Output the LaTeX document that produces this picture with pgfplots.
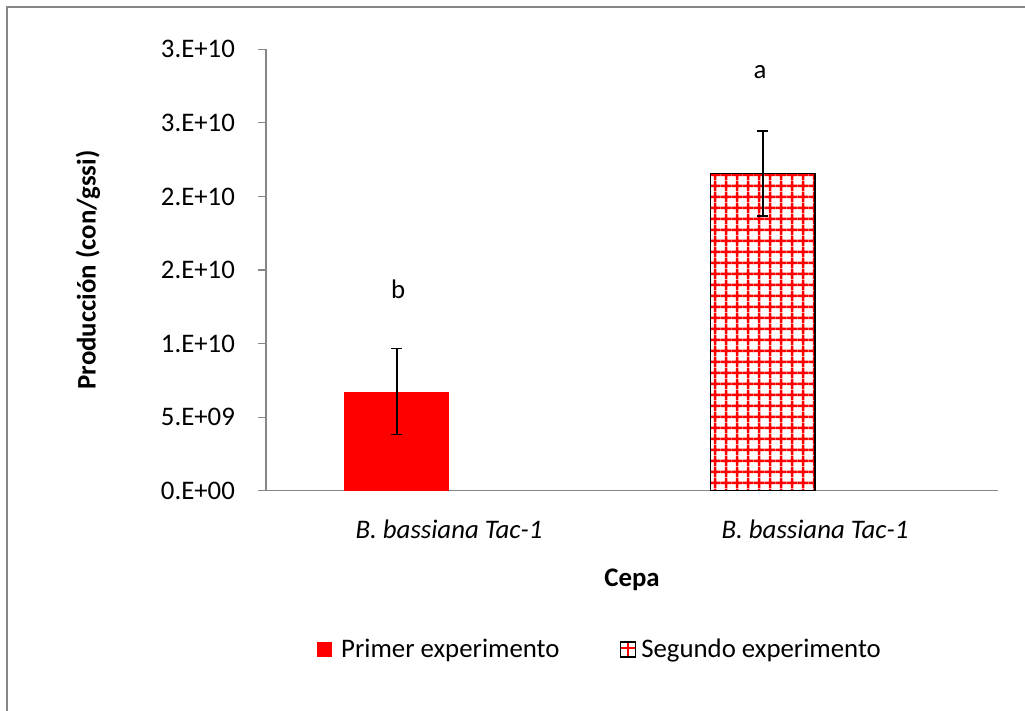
\documentclass[border=0pt]{standalone}
\usepackage{pgfplots}
\pgfplotsset{compat=1.18}
\usepackage{fontspec}
\setmainfont{Carlito}
\usetikzlibrary{patterns}
\definecolor{axisgray}{HTML}{868686}
\definecolor{xred}{HTML}{FF0000}
\pgfdeclarepatternformonly{redgrid}{\pgfpointorigin}{\pgfqpoint{5.3pt}{5.3pt}}{\pgfqpoint{5.3pt}{5.3pt}}{%
  \pgfsetlinewidth{1.2pt}%
  \pgfpathmoveto{\pgfqpoint{-0.1pt}{2.65pt}}\pgfpathlineto{\pgfqpoint{5.4pt}{2.65pt}}%
  \pgfpathmoveto{\pgfqpoint{2.65pt}{-0.1pt}}\pgfpathlineto{\pgfqpoint{2.65pt}{5.4pt}}%
  \pgfusepath{stroke}}
\begin{document}
\begin{tikzpicture}[font=\fontsize{13.4}{16}\selectfont]
\useasboundingbox (0,0) rectangle (512.5pt,355.5pt);
\draw[axisgray, line width=0.8pt] (3.4pt,-2pt) -- (3.4pt,352.1pt) -- (515pt,352.1pt);
\begin{axis}[
  at={(133pt,110.15pt)}, anchor=south west,
  scale only axis, width=366pt, height=220.7pt,
  xmin=-0.5, xmax=1.5, ymin=0, ymax=3e10,
  clip=false,
  axis lines*=left,
  axis line style={draw=axisgray, line width=0.6pt, -},
  xtick={0,1}, xticklabels={\textit{B. bassiana Tac-1},\textit{B. bassiana Tac-1}},
  xtick style={draw=none},
  xticklabel style={yshift=-7pt},
  ytick={0,5e9,1e10,1.5e10,2e10,2.5e10,3e10},
  yticklabels={0.E+00,5.E+09,1.E+10,2.E+10,2.E+10,3.E+10,3.E+10},
  scaled y ticks=false,
  ytick style={draw=axisgray, line width=0.6pt},
  tick align=outside, major tick length=4pt,
  yticklabel style={xshift=-8pt},
  ylabel={\bfseries Producción (con/gssi)},
  every axis y label/.style={at={(axis description cs:-0.2432,0.5)}, rotate=90, anchor=center},
  xlabel={\bfseries Cepa},
  every axis x label/.style={at={(axis description cs:0.5,-0.202)}, anchor=center},
  legend style={draw=none, fill=none, at={(axis description cs:0.4577,-0.360)}, anchor=center,
    /tikz/every even column/.append style={column sep=28pt}},
  legend columns=2,
  ybar, bar width=0.2857,
]
\addplot[ybar, bar shift=0pt, fill=xred, draw=none,
  legend image code/.code={\fill[xred] (0pt,-3.75pt) rectangle (7.5pt,3.75pt); \path (10pt,0pt);},
  error bars/.cd, y dir=both, y explicit,
  error bar style={black, line width=0.9pt},
  error mark options={black, line width=0.9pt, mark size=2.6pt, rotate=90}]
  coordinates {(-0.1429,6.74e9) +- (0,2.92e9)};
\addlegendentry{Primer experimento}
\addplot[ybar, bar shift=0pt, fill=white, draw=none,
  legend image code/.code={\path[fill=white, draw=none] (0pt,-3.75pt) rectangle (7.5pt,3.75pt);
    \path[fill=xred, draw=none] (3.1pt,-3.75pt) rectangle (4.4pt,3.75pt);
    \path[fill=xred, draw=none] (0pt,0.2pt) rectangle (7.5pt,1.4pt);
    \path[draw=black, fill=none, line width=0.8pt] (0pt,-3.75pt) rectangle (7.5pt,3.75pt);
    \path[fill=none, draw=none] (8.5pt,0pt);}]
  coordinates {(0.8571,2.155e10)};
\addlegendentry{Segundo experimento}
\addplot[ybar, bar shift=0pt, pattern=redgrid, pattern color=xred, draw=black, line width=0.8pt, forget plot,
  error bars/.cd, y dir=both, y explicit,
  error bar style={black, line width=0.9pt},
  error mark options={black, line width=0.9pt, mark size=2.6pt, rotate=90}]
  coordinates {(0.8571,2.155e10) +- (0,2.9e9)};
\node at (axis cs:-0.139,1.371e10) {b};
\node at (axis cs:0.850,2.848e10) {a};
\end{axis}
\end{tikzpicture}
\end{document}
